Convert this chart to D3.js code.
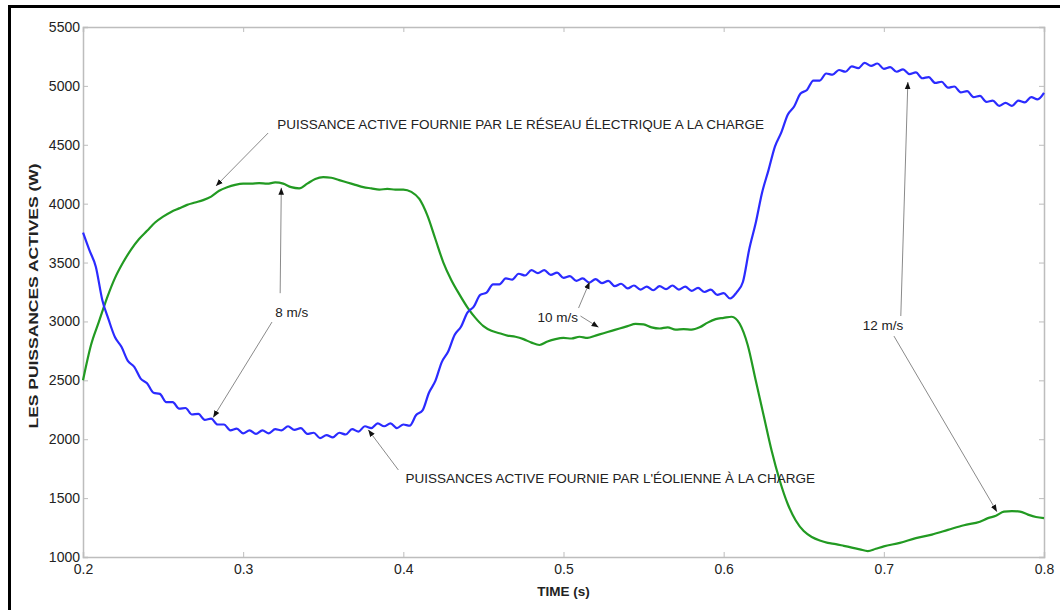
<!DOCTYPE html>
<html>
<head>
<meta charset="utf-8">
<script src="https://cdn.jsdelivr.net/npm/d3@7"></script>
<style>
  body { margin: 0; background: #fff; }
  text { font-family: "Liberation Sans", Arial, sans-serif; }
</style>
</head>
<body>
<svg id="chart" width="1060" height="610"></svg>
<script>
// x ticks (time, s) and y ticks (W)
const xTicks = [0.2, 0.3, 0.4, 0.5, 0.6, 0.7, 0.8];
const yTicks = [1000, 1500, 2000, 2500, 3000, 3500, 4000, 4500, 5000, 5500];

const reseauStart = 0.2;
const reseauStep = 0.004;
const reseauValues = [
  3755, 3605, 3465, 3185, 3015, 2865, 2785, 2665, 2615, 2515,
  2475, 2395, 2385, 2315, 2315, 2260, 2265, 2210, 2215, 2165,
  2175, 2125, 2125, 2075, 2090, 2050, 2075, 2045, 2075, 2050,
  2085, 2075, 2110, 2080, 2095, 2045, 2055, 2010, 2035, 2015,
  2055, 2040, 2085, 2065, 2110, 2095, 2135, 2110, 2135, 2095,
  2125, 2115, 2205, 2245, 2395, 2495, 2655, 2745, 2885, 2955,
  3075, 3125, 3225, 3245, 3315, 3315, 3365, 3355, 3405, 3390,
  3435, 3410, 3435, 3395, 3415, 3370, 3385, 3345, 3365, 3330,
  3360, 3325, 3345, 3300, 3320, 3280, 3305, 3270, 3295, 3265,
  3300, 3275, 3305, 3270, 3295, 3260, 3285, 3250, 3270, 3225,
  3240, 3195, 3245, 3335, 3615, 3835, 4095, 4285, 4485, 4605,
  4755, 4825, 4935, 4965, 5045, 5045, 5105, 5095, 5135, 5120,
  5165, 5150, 5195, 5170, 5190, 5145, 5160, 5120, 5140, 5100,
  5115, 5065, 5075, 5025, 5035, 4985, 4995, 4945, 4955, 4905,
  4915, 4865, 4875, 4830, 4855, 4830, 4875, 4860, 4905, 4885,
  4940
];

// green curve: time (s)
const eolTime = [
  0.200, 0.205, 0.210, 0.215, 0.220, 0.225, 0.230, 0.235, 0.240, 0.245,
  0.250, 0.255, 0.260, 0.265, 0.270, 0.275, 0.280, 0.285, 0.290, 0.295,
  0.300, 0.305, 0.310, 0.315, 0.320, 0.325, 0.330, 0.335, 0.340, 0.345,
  0.350, 0.355, 0.360, 0.365, 0.370, 0.375, 0.380, 0.385, 0.390, 0.395,
  0.400, 0.405, 0.410, 0.415, 0.420, 0.425, 0.430, 0.435, 0.440, 0.445,
  0.450, 0.455, 0.460, 0.465, 0.470, 0.475, 0.480, 0.485, 0.490, 0.495,
  0.500, 0.505, 0.510, 0.515, 0.520, 0.525, 0.530, 0.535, 0.540, 0.545,
  0.550, 0.555, 0.560, 0.565, 0.570, 0.575, 0.580, 0.585, 0.590, 0.595,
  0.600, 0.605, 0.610, 0.615, 0.620, 0.625, 0.630, 0.635, 0.640, 0.645,
  0.650, 0.655, 0.660, 0.665, 0.670, 0.675, 0.680, 0.685, 0.690, 0.695,
  0.700, 0.710, 0.720, 0.730, 0.740, 0.750, 0.760, 0.765, 0.770, 0.775,
  0.780, 0.785, 0.790, 0.795, 0.800
];
// green curve: power (W)
const eolValues = [
  2500, 2800, 3000, 3200, 3370, 3500, 3610, 3700, 3770, 3840,
  3890, 3930, 3960, 3990, 4010, 4030, 4060, 4110, 4140, 4160,
  4170, 4170, 4175, 4170, 4180, 4170, 4140, 4130, 4170, 4210,
  4225, 4220, 4200, 4180, 4160, 4140, 4130, 4120, 4125, 4120,
  4120, 4100, 4040, 3900, 3700, 3500, 3350, 3230, 3120, 3030,
  2960, 2920, 2900, 2880, 2870, 2850, 2820, 2800, 2830, 2850,
  2860, 2855, 2870, 2860, 2880, 2900, 2920, 2940, 2960, 2980,
  2975, 2950, 2940, 2950, 2930, 2935, 2930, 2950, 2990, 3020,
  3030, 3040, 2980, 2800, 2500, 2200, 1900, 1650, 1450, 1310,
  1220, 1170, 1140, 1120, 1110, 1095, 1080, 1065, 1050, 1070,
  1090, 1120, 1160, 1190, 1230, 1270, 1300, 1330, 1350, 1385,
  1390, 1385, 1360, 1340, 1330
];

// annotation texts, anchored in data units [t, W]
const labelTexts = [
  "PUISSANCE ACTIVE FOURNIE PAR LE RÉSEAU ÉLECTRIQUE A LA CHARGE",
  "8 m/s",
  "10 m/s",
  "12 m/s",
  "PUISSANCES ACTIVE FOURNIE PAR L'ÉOLIENNE À LA CHARGE"
];
const labelAt = [[0.3213, 4634], [0.3200, 3040], [0.4838, 2995], [0.6869, 2927], [0.4013, 1628]];
// arrows: [from t, from W, tip t, tip W]
const arrows = [
  [0.3156, 4600, 0.2830, 4150],
  [0.3231, 3240, 0.3238, 4135],
  [0.3180, 2995, 0.2813, 2185],
  [0.5094, 3114, 0.5163, 3335],
  [0.5106, 3046, 0.5219, 2950],
  [0.7106, 3046, 0.7150, 5033],
  [0.7063, 2876, 0.7706, 1385],
  [0.3969, 1739, 0.3781, 2080]
];

const svg = d3.select("#chart");

// outer frame of the figure
svg.append("path")
  .attr("d", "M9.5,610 L9.5,6.5 L1060,6.5")
  .attr("fill", "none")
  .attr("stroke", "#000")
  .attr("stroke-width", 3);

const x = d3.scaleLinear().domain([0.2, 0.8]).range([83, 1044]);
const y = d3.scaleLinear().domain([1000, 5500]).range([557, 27]);

svg.append("defs").append("marker")
  .attr("id", "tip")
  .attr("viewBox", "0 -5 10 10")
  .attr("refX", 10)
  .attr("refY", 0)
  .attr("markerWidth", 7)
  .attr("markerHeight", 7)
  .attr("markerUnits", "userSpaceOnUse")
  .attr("orient", "auto")
  .append("path")
  .attr("d", "M0,-4L10,0L0,4Z")
  .attr("fill", "#111");

// axes with inward ticks on all four sides
const gridColor = "#bdbdbd";
const axes = [
  d3.axisBottom(x).tickValues(xTicks).tickSize(-5).tickFormat(d3.format(".1f")),
  d3.axisTop(x).tickValues(xTicks).tickSize(-5).tickFormat(""),
  d3.axisLeft(y).tickValues(yTicks).tickSize(-5).tickFormat(d3.format("d")),
  d3.axisRight(y).tickValues(yTicks).tickSize(-5).tickFormat("")
];
const axisPos = ["translate(0,557)", "translate(0,27)", "translate(83,0)", "translate(1044,0)"];
axes.forEach(function(a, i) {
  const g = svg.append("g").attr("transform", axisPos[i]).call(a);
  g.select(".domain").attr("stroke", gridColor).attr("stroke-width", 1.5);
  g.selectAll(".tick line").attr("stroke", gridColor);
  g.selectAll("text")
    .attr("fill", "#222")
    .style("font-size", "14px")
    .style("font-family", "'Liberation Sans', Arial, sans-serif");
  if (i === 0) g.selectAll("text").attr("dy", "1.0em");
  if (i === 2) g.selectAll("text").attr("x", -3);
});

// curves
const line = d3.line().x(d => x(d[0])).y(d => y(d[1])).curve(d3.curveMonotoneX);
const reseau = reseauValues.map((v, i) => [reseauStart + i * reseauStep, v]);
const eol = eolTime.map((t, i) => [t, eolValues[i]]);

svg.append("path").datum(eol)
  .attr("d", line)
  .attr("fill", "none")
  .attr("stroke", "#229a22")
  .attr("stroke-width", 2.2)
  .attr("stroke-linejoin", "round");

svg.append("path").datum(reseau)
  .attr("d", line)
  .attr("fill", "none")
  .attr("stroke", "#2b2bff")
  .attr("stroke-width", 2.2)
  .attr("stroke-linejoin", "round");

// annotation arrows
svg.selectAll(".arrow").data(arrows).enter().append("line")
  .attr("class", "arrow")
  .attr("x1", d => x(d[0])).attr("y1", d => y(d[1]))
  .attr("x2", d => x(d[2])).attr("y2", d => y(d[3]))
  .attr("stroke", "#8a8a8a")
  .attr("stroke-width", 1)
  .attr("marker-end", "url(#tip)");

svg.selectAll(".note").data(labelTexts).enter().append("text")
  .attr("class", "note")
  .attr("x", (d, i) => x(labelAt[i][0]))
  .attr("y", (d, i) => y(labelAt[i][1]))
  .attr("fill", "#222")
  .style("font-size", "13.5px")
  .text(d => d);

// axis titles
svg.append("text")
  .attr("x", x(0.5))
  .attr("y", 596)
  .attr("text-anchor", "middle")
  .attr("fill", "#222")
  .style("font-size", "13.5px")
  .style("font-weight", "bold")
  .text("TIME (s)");

svg.append("text")
  .attr("transform", "translate(38,296) rotate(-90)")
  .attr("text-anchor", "middle")
  .attr("fill", "#222")
  .attr("textLength", 265)
  .attr("lengthAdjust", "spacingAndGlyphs")
  .style("font-size", "12px")
  .style("font-weight", "bold")
  .text("LES PUISSANCES ACTIVES (W)");
</script>
</body>
</html>
